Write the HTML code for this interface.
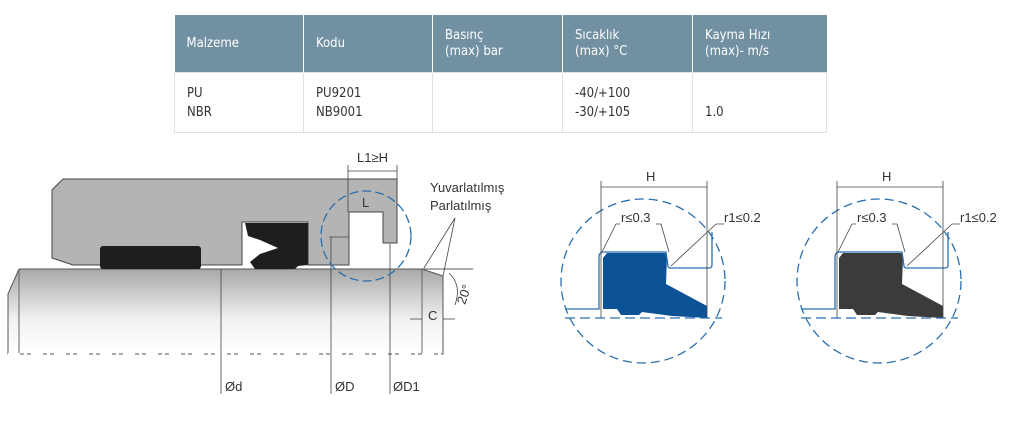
<!DOCTYPE html>
<html><head><meta charset="utf-8"><style>
body{margin:0;width:1014px;height:438px;background:#fff;overflow:hidden;font-family:"Liberation Sans",sans-serif}
table{position:absolute;left:174px;top:15px;border-collapse:collapse;font-family:"DejaVu Sans Condensed","Liberation Sans",sans-serif;font-size:13px}
th{background:#7190a2;color:#fff;font-weight:normal;text-align:left;vertical-align:top;height:57px;padding:0 0 0 12px;box-sizing:border-box;border-right:1px solid #fff;line-height:16px}
td{color:#333;vertical-align:top;height:60px;padding:11px 0 0 12px;box-sizing:border-box;border:1px solid #e2e2e2;line-height:19px}
svg{position:absolute;left:0;top:0}
</style></head><body>
<table>
<tr><th style="width:129px;padding-top:21px">Malzeme</th><th style="width:129px;padding-top:21px">Kodu</th><th style="width:130px;padding-top:13px">Basınç<br>(max) bar</th><th style="width:130px;padding-top:13px">Sıcaklık<br>(max) °C</th><th style="width:134px;padding-top:13px;border-right:none">Kayma Hızı<br>(max)- m/s</th></tr>
<tr><td>PU<br>NBR</td><td>PU9201<br>NB9001</td><td></td><td>-40/+100<br>-30/+105</td><td><br>1.0</td></tr>
</table>
<svg width="1014" height="438" viewBox="0 0 1014 438" font-family="Liberation Sans, sans-serif" font-size="13" fill="#333">
<defs><linearGradient id="g" x1="0" y1="0" x2="0" y2="1"><stop offset="0" stop-color="#a8a8a8"/><stop offset="0.6" stop-color="#f2f2f2"/><stop offset="1" stop-color="#fff"/></linearGradient></defs>
<polygon points="8,294 19,269 422,269 443,276 443,354 8,354" fill="url(#g)" stroke="#555" stroke-width="1"/>
<line x1="19" y1="269" x2="19" y2="354" stroke="#666"/>
<line x1="422" y1="269" x2="422" y2="354" stroke="#666"/>
<line x1="422" y1="269" x2="473" y2="269" stroke="#555"/>
<line x1="8" y1="354" x2="443" y2="354" stroke="#fff" stroke-width="2" stroke-dasharray="12,4,3,4"/>
<polygon points="63,179 397,179 397,243 383,243 383,212 349,212 349,265 308,265 308,222 242,222 242,265 73,265 52,258 52,190" fill="#b4b4b4" stroke="#444"/>
<rect x="100" y="246" width="101" height="23" rx="3" fill="#1e1e1e"/>
<path d="M245,223 L308,223 L308,265 L298,266 L295,269 L255,269 L250,262 L260,254 L278,248 L260,240 L248,236 Z" fill="#1e1e1e"/>
<g stroke="#444" stroke-width="0.8" fill="none">
<line x1="348" y1="171" x2="397" y2="171"/><line x1="348" y1="165" x2="348" y2="212"/><line x1="397" y1="165" x2="397" y2="179"/>
<line x1="349" y1="212" x2="383" y2="212"/>
<line x1="221" y1="269" x2="221" y2="394"/>
<line x1="331" y1="237" x2="331" y2="394"/><line x1="329" y1="237" x2="349" y2="237"/>
<line x1="390" y1="244" x2="390" y2="394"/>
<line x1="455" y1="218" x2="424" y2="268"/><line x1="455" y1="218" x2="443" y2="276"/>
<path d="M449,273 Q462,285 455,305"/>
<line x1="410" y1="319" x2="422" y2="319"/><line x1="443" y1="319" x2="455" y2="319"/>
</g>
<circle cx="366" cy="236" r="45" fill="none" stroke="#2a6fb0" stroke-width="1.3" stroke-dasharray="9,4"/>
<text x="357" y="162">L1≥H</text>
<text x="362" y="207">L</text>
<text x="225" y="391">Ød</text><text x="335" y="391">ØD</text><text x="393" y="391">ØD1</text>
<text x="430" y="192">Yuvarlatılmış</text><text x="430" y="210">Parlatılmış</text>
<text x="428" y="320">C</text>
<text x="455" y="305" transform="rotate(-70 460 298)">20°</text>
<g>
<circle cx="643" cy="281" r="82" fill="none" stroke="#2a6fb0" stroke-width="1.3" stroke-dasharray="9,5"/>
<path d="M607,253 L664,253 Q667,253 667,257 L666,284 L707,306 L707,318 L672,316 L642,312 L639,315 L621,315 L617,309 L603,309 L603,258 Z" fill="#0b5296"/>
<path d="M565,309 L599,309 L599,257 Q599,252 604,252 L666,252 L668,266 Q668,268 671,268 L709,268 Q712,268 712,265 L712,232" fill="none" stroke="#2a6fb0" stroke-width="1.3"/>
<line x1="565" y1="318" x2="722" y2="318" stroke="#2a6fb0" stroke-width="1.3" stroke-dasharray="10,5"/>
<g stroke="#444" stroke-width="0.8" fill="none"><line x1="601" y1="181" x2="601" y2="318"/><line x1="707" y1="181" x2="707" y2="318"/><line x1="601" y1="187" x2="707" y2="187"/>
<path d="M602,252 L616,224 L620,224 M656,224 L661,224 L669,252 M671,266 L716,224 L724,224"/></g>
<text x="646" y="181">H</text><text x="621" y="222">r≤0.3</text><text x="724" y="222">r1≤0.2</text>
</g>
<g>
<circle cx="879" cy="281" r="82" fill="none" stroke="#2a6fb0" stroke-width="1.3" stroke-dasharray="9,5"/>
<path d="M843,253 L900,253 Q903,253 903,257 L902,284 L943,306 L943,318 L908,316 L878,312 L875,315 L857,315 L853,309 L839,309 L839,258 Z" fill="#3b3b3b"/>
<path d="M801,309 L835,309 L835,257 Q835,252 840,252 L902,252 L904,266 Q904,268 907,268 L945,268 Q948,268 948,265 L948,232" fill="none" stroke="#2a6fb0" stroke-width="1.3"/>
<line x1="801" y1="318" x2="958" y2="318" stroke="#2a6fb0" stroke-width="1.3" stroke-dasharray="10,5"/>
<g stroke="#444" stroke-width="0.8" fill="none"><line x1="837" y1="181" x2="837" y2="318"/><line x1="943" y1="181" x2="943" y2="318"/><line x1="837" y1="187" x2="943" y2="187"/>
<path d="M838,252 L852,224 L856,224 M892,224 L897,224 L905,252 M907,266 L952,224 L960,224"/></g>
<text x="882" y="181">H</text><text x="857" y="222">r≤0.3</text><text x="960" y="222">r1≤0.2</text>
</g>
</svg>
</body></html>
